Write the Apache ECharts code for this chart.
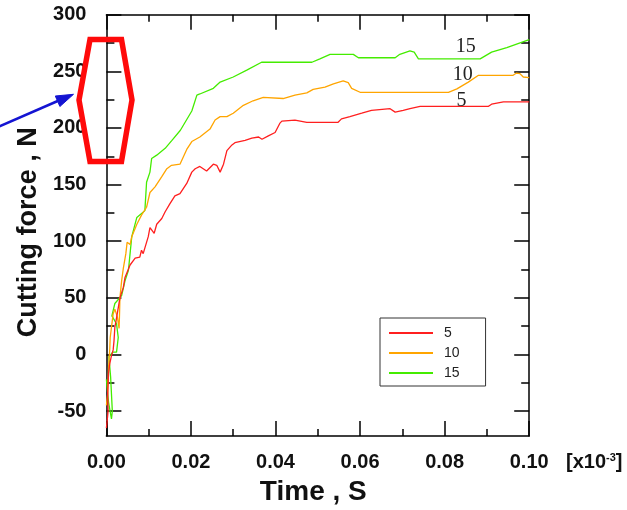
<!DOCTYPE html>
<html><head><meta charset="utf-8">
<script src="https://cdn.jsdelivr.net/npm/echarts@6/dist/echarts.min.js"></script>
<style>html,body{margin:0;padding:0;background:#fff}#c{width:627px;height:510px}</style>
</head><body><div id="c"></div>
<script>
// ---- data (time in x10^-3 s, force in N) ----
const seriesNames = ['5', '10', '15'];
const force5 = [[0,-65],[0.0002,-58],[0.0004,-50],[0.0003,-35],[0.0005,-17],[0.0008,-8],[0.0012,-1],[0.0016,4],[0.0018,12],[0.002,24],[0.0023,30],[0.0027,31],[0.0032,50],[0.004,59],[0.0044,68],[0.0056,79],[0.0068,85],[0.0079,86],[0.0083,92],[0.0087,89],[0.0099,104],[0.0103,112],[0.0107,110],[0.0113,107],[0.0119,115],[0.0131,120],[0.0139,126],[0.015,133],[0.0162,140],[0.0174,142],[0.019,151],[0.0202,161],[0.021,164],[0.0221,166],[0.0237,162],[0.0253,168],[0.0261,167],[0.0269,161],[0.0277,168],[0.0285,180],[0.0297,185],[0.0304,187],[0.0328,189],[0.0344,191],[0.036,192],[0.0368,190],[0.0383,193],[0.0399,196],[0.041,204],[0.0415,206],[0.0446,207],[0.0474,205],[0.0548,205],[0.0556,208],[0.0576,210],[0.0604,213],[0.0627,215.5],[0.0671,217],[0.0683,214],[0.0702,215.5],[0.0718,217],[0.0742,219],[0.0903,219],[0.0911,221],[0.0939,223],[0.1,223]];
const force10 = [[0,-45],[0.0003,-35],[0.0005,-12],[0.0008,5],[0.0009,15],[0.0016,36],[0.002,40],[0.0026,33],[0.003,23],[0.0031,35],[0.0032,50],[0.0036,65],[0.004,76],[0.0046,89],[0.0049,99],[0.0052,100],[0.0056,97],[0.006,104],[0.0072,115],[0.0083,123],[0.0095,130],[0.0103,143],[0.0115,148],[0.0131,157],[0.0143,164],[0.0154,167],[0.0174,168],[0.019,181],[0.0202,188],[0.0221,192],[0.0245,199],[0.0257,207],[0.0269,210],[0.0285,210],[0.03,213],[0.0324,220],[0.0347,224],[0.0371,227],[0.0418,226],[0.0446,229],[0.0474,231],[0.0489,234],[0.0517,236],[0.0537,239],[0.056,241.5],[0.0572,240],[0.058,235],[0.06,231.5],[0.0809,231.5],[0.0829,234.5],[0.0856,240.5],[0.088,246.5],[0.0962,246.5],[0.097,248.5],[0.0978,248],[0.0986,245],[0.1,244.5]];
const force15 = [[0,-22],[0.0005,-42],[0.0012,-57],[0.0014,-50],[0.001,-20],[0.0006,-2],[0.0015,2],[0.0024,2],[0.0028,15],[0.0024,27],[0.0013,34],[0.002,45],[0.0036,52],[0.0044,65],[0.0052,74],[0.006,104],[0.0072,121],[0.0091,127],[0.0095,152],[0.0103,161],[0.0107,173],[0.0119,176],[0.0139,182],[0.0155,189],[0.0175,198],[0.0202,215],[0.0214,229],[0.0221,230],[0.0253,235],[0.0269,240.5],[0.03,245],[0.0332,251],[0.0367,258],[0.0486,258],[0.0505,261],[0.0529,265],[0.0584,265],[0.0596,262],[0.0683,262],[0.0694,265],[0.0718,268],[0.0728,267],[0.0738,261],[0.0884,261],[0.0911,267],[0.0947,271],[0.1,278]];
const yMajorTicks = [-50, 0, 50, 100, 150, 200, 250, 300];
const yMinorTicks = [-25, 25, 75, 125, 175, 225, 275];
const lineLabelText = ['15', '10', '5'];
const lineLabelAt = [[0.0850, 271.5], [0.0843, 247.3], [0.0840, 224]];

// ---- chart ----
const colors = ['#ff1f1f', '#ffa500', '#44ec00'];
const X = {min: 0, max: 0.1, interval: 0.02};
const Y = {min: -72, max: 300};
const black = '#000';
const FONT = 'Liberation Sans, Arial, sans-serif';
const chart = echarts.init(document.getElementById('c'), null, {renderer: 'canvas'});

function xAxisCfg(pos, withLabels) {
  return {
    type: 'value', position: pos, min: X.min, max: X.max, interval: X.interval,
    axisLine: {show: true, onZero: false, lineStyle: {color: black, width: 1.5}},
    axisTick: {show: true, inside: true, length: 15, lineStyle: {color: black, width: 1.5}},
    minorTick: {show: true, splitNumber: 2, length: 7, lineStyle: {color: black, width: 1.5}},
    splitLine: {show: false}, minorSplitLine: {show: false},
    axisLabel: withLabels ? {show: true, margin: 16, color: '#111', fontSize: 20, fontWeight: 'bold',
      fontFamily: FONT, formatter: v => v.toFixed(2)} : {show: false},
    name: withLabels ? 'Time , S' : '', nameLocation: 'middle', nameGap: 42,
    nameTextStyle: {fontSize: 28, fontWeight: 'bold', color: '#111', fontFamily: FONT, padding: [0, 9, 0, 0]}
  };
}
function yAxisCfg(pos, ticks, len, withLabels, showLine) {
  return {
    type: 'value', position: pos, min: Y.min, max: Y.max,
    axisLine: {show: showLine, onZero: false, lineStyle: {color: black, width: 1.5}},
    axisTick: {show: true, inside: true, length: len, customValues: ticks, lineStyle: {color: black, width: 1.5}},
    splitLine: {show: false},
    axisLabel: withLabels ? {show: true, customValues: ticks, margin: 20, color: '#111', fontSize: 20, fontWeight: 'bold',
      fontFamily: FONT} : {show: false},
    name: withLabels ? 'Cutting force , N' : '', nameLocation: 'middle', nameGap: 64,
    nameTextStyle: {fontSize: 27, fontWeight: 'bold', color: '#111', fontFamily: FONT, padding: [0, 14, 0, 0]}
  };
}

const datasets = [force5, force10, force15];
const option = {
  animation: false,
  backgroundColor: '#fff',
  grid: {left: 106.4, right: 97.8, top: 14.7, bottom: 74, containLabel: false, outerBoundsMode: 'none'},
  xAxis: [xAxisCfg('bottom', true), xAxisCfg('top', false)],
  yAxis: [
    yAxisCfg('left', yMajorTicks, 15, true, true),
    yAxisCfg('left', yMinorTicks, 8, false, false),
    yAxisCfg('right', yMajorTicks, 15, false, true),
    yAxisCfg('right', yMinorTicks, 8, false, false)
  ],
  legend: {
    show: true, orient: 'vertical', left: 380, top: 318,
    padding: [5, 26, 3, 9], borderColor: '#333', borderWidth: 1, backgroundColor: '#fff',
    icon: 'rect', itemWidth: 44, itemHeight: 2, itemGap: 0,
    textStyle: {fontSize: 14, lineHeight: 20, color: '#222', fontFamily: FONT, padding: [0, 0, 0, 6]},
    data: seriesNames
  },
  series: seriesNames.map((n, i) => ({
    name: n, type: 'line', xAxisIndex: 0, yAxisIndex: 0,
    data: datasets[i], symbol: 'none', showSymbol: false, smooth: false,
    color: colors[i], lineStyle: {color: colors[i], width: 1.3}, z: 3 - i
  }))
};
chart.setOption(option);

// annotations
const graphics = [
  {type: 'polygon', shape: {points: [[90, 39.5], [121.5, 39.5], [132, 100], [121.5, 161.5], [90, 161.5], [79, 100]]},
   style: {fill: 'none', stroke: '#ff0a0a', lineWidth: 5.5, lineJoin: 'miter'}, z: 100},
  {type: 'line', shape: {x1: -2, y1: 127, x2: 60, y2: 100},
   style: {stroke: '#1414d2', lineWidth: 2.6}, z: 100},
  {type: 'polygon', shape: {points: [[73.5, 94.3], [55.3, 96], [59.9, 106.5]]},
   style: {fill: '#1414d2', stroke: '#1414d2', lineWidth: 1}, z: 100},
  {type: 'text', x: 566, y: 462, style: {
    text: '{a|[x10}{s|-3}{a|]}', verticalAlign: 'middle', align: 'left',
    rich: {a: {fontSize: 20, fontWeight: 'bold', fill: '#111', fontFamily: FONT},
           s: {fontSize: 11, fontWeight: 'bold', fill: '#111', verticalAlign: 'top', fontFamily: FONT}}
  }, z: 100}
];
lineLabelText.forEach((t, i) => {
  const p = chart.convertToPixel({xAxisIndex: 0, yAxisIndex: 0}, lineLabelAt[i]);
  graphics.push({type: 'text', x: p[0], y: p[1], style: {text: t, align: 'center', verticalAlign: 'middle',
    fontSize: 20, fill: '#222', fontFamily: 'Liberation Serif, Times New Roman, serif'}, z: 50});
});
chart.setOption({graphic: graphics});
</script></body></html>
